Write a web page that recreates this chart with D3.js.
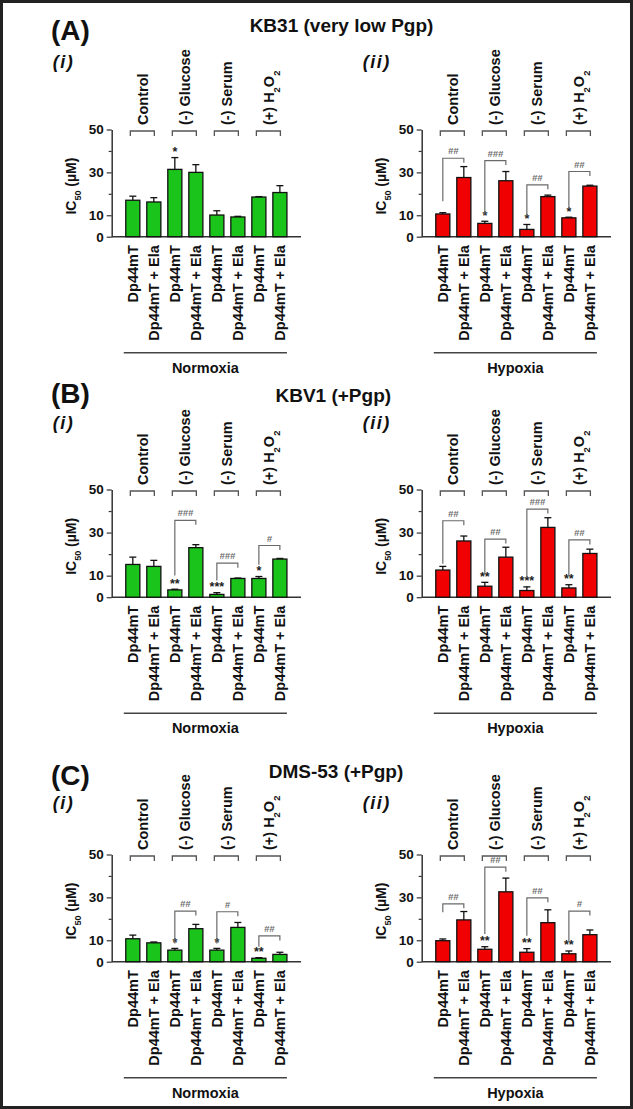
<!DOCTYPE html>
<html><head><meta charset="utf-8">
<script src="https://cdn.jsdelivr.net/npm/d3@7"></script>
<style>
body{margin:0;background:#fff}
svg{display:block}
text{font-family:"Liberation Sans",Arial,sans-serif;font-weight:bold}
</style>
</head><body>
<svg id="chart" width="633" height="1109"></svg>
<script>
// ---------- data ----------
const groups = ["Control", "(-) Glucose", "(-) Serum", "(+) H2O2"];
const treatments = ["Dp44mT", "Dp44mT + Ela"];
const yTickValues = [0, 10, 20, 30, 40, 50];
const yTickLabels = [0, 10, 30, 50];
const conditions = ["Normoxia", "Hypoxia"];
const panelLetters = ["(A)", "(B)", "(C)"];
const cellLines = ["KB31 (very low Pgp)", "KBV1 (+Pgp)", "DMS-53 (+Pgp)"];
const subLabels = ["(i)", "(ii)"];

// (A) KB31
const aNormMean = [17.0, 16.2, 31.4, 30.0, 10.1, 9.2, 18.5, 20.6];
const aNormErr  = [1.9, 2.0, 5.5, 3.6, 2.0, 0.3, 0.2, 3.2];
const aNormStar = ["", "", "*", "", "", "", "", ""];
const aNormHash = [null, null, null, null];
const aNormHashTop = [null, null, null, null];
const aNormHashLeft = [null, null, null, null];

const aHypMean = [10.6, 27.6, 6.2, 26.1, 3.4, 18.7, 8.8, 23.6];
const aHypErr  = [0.6, 5.1, 1.0, 4.3, 2.3, 0.7, 0.3, 0.4];
const aHypStar = ["", "", "*", "", "*", "", "*", ""];
const aHypHash = ["##", "###", "##", "##"];
const aHypHashTop = [36.6, 35.5, 24.2, 30.4];
const aHypHashLeft = [16.5, 10.6, 9.5, 13.0];

// (B) KBV1
const bNormMean = [15.2, 14.3, 3.4, 23.0, 1.3, 8.7, 8.7, 17.7];
const bNormErr  = [3.4, 2.8, 0.3, 1.4, 0.8, 0.2, 0.9, 0.3];
const bNormStar = ["", "", "**", "", "***", "", "*", ""];
const bNormHash = [null, "###", "###", "#"];
const bNormHashTop = [null, 35.7, 15.8, 24.0];
const bNormHashLeft = [null, 10.1, 7.8, 15.1];

const bHypMean = [12.6, 26.1, 5.1, 18.6, 3.1, 32.4, 4.3, 20.3];
const bHypErr  = [1.7, 2.3, 1.8, 4.6, 1.7, 4.5, 1.5, 2.0];
const bHypStar = ["", "", "**", "", "***", "", "**", ""];
const bHypHash = ["##", "##", "###", "##"];
const bHypHashTop = [35.5, 27.0, 40.9, 26.6];
const bHypHashLeft = [15.5, 10.5, 9.2, 10.3];

// (C) DMS-53
const cNormMean = [10.7, 8.8, 5.4, 15.4, 5.4, 16.0, 1.6, 3.4];
const cNormErr  = [1.7, 0.4, 0.8, 2.0, 0.8, 2.3, 0.3, 1.0];
const cNormStar = ["", "", "*", "", "*", "", "**", ""];
const cNormHash = [null, "##", "#", "##"];
const cNormHashTop = [null, 23.6, 23.3, 12.0];
const cNormHashLeft = [null, 8.5, 8.5, 7.0];

const cHypMean = [9.8, 19.5, 5.8, 32.6, 4.4, 18.2, 3.7, 12.6];
const cHypErr  = [0.8, 3.9, 1.2, 6.4, 1.7, 6.0, 1.3, 2.2];
const cHypStar = ["", "", "**", "", "**", "", "**", ""];
const cHypHash = ["##", "##", "##", "#"];
const cHypHashTop = [27.0, 44.1, 29.8, 23.6];
const cHypHashLeft = [23.1, 12.9, 12.1, 9.5];

// ---------- layout ----------
const colors = ["#1ac41a", "#f00000"];
const colX = [[111.7, 301], [421.7, 611]];
const rowY50 = [129.5, 489.5, 854.5];
const rowY0 = [236.7, 597.2, 961.7];
const titleXY = [[341.5, 25], [333.3, 395], [336, 771.5]];
const letterY = [30.5, 393.5, 775.5];
const subY = [61.7, 423.3, 803.3];

const panels = [
  [[aNormMean, aNormErr, aNormStar, aNormHash, aNormHashTop, aNormHashLeft],
   [aHypMean, aHypErr, aHypStar, aHypHash, aHypHashTop, aHypHashLeft]],
  [[bNormMean, bNormErr, bNormStar, bNormHash, bNormHashTop, bNormHashLeft],
   [bHypMean, bHypErr, bHypStar, bHypHash, bHypHashTop, bHypHashLeft]],
  [[cNormMean, cNormErr, cNormStar, cNormHash, cNormHashTop, cNormHashLeft],
   [cHypMean, cHypErr, cHypStar, cHypHash, cHypHashTop, cHypHashLeft]]
];

const svg = d3.select("#chart");
svg.append("rect").attr("x", 1.5).attr("y", 1.5).attr("width", 630).attr("height", 1106)
  .attr("fill", "#fff").attr("stroke", "#222").attr("stroke-width", 3);

const barLabels = d3.range(8).map(i => treatments[i % 2]);

function addLabel(sel, txt, fs) {
  if (txt === "(+) H2O2") {
    sel.append("tspan").text("(+) H");
    sel.append("tspan").text("2").attr("baseline-shift", "sub").attr("font-size", fs * 0.65);
    sel.append("tspan").text("O");
    sel.append("tspan").text("2").attr("baseline-shift", "sub").attr("font-size", fs * 0.65);
  } else sel.text(txt);
}

panels.forEach((row, r) => {
  svg.append("text").attr("x", 51).attr("y", letterY[r]).attr("dominant-baseline", "central")
    .attr("font-size", 28).attr("fill", "#111").text(panelLetters[r]);
  svg.append("text").attr("x", titleXY[r][0]).attr("y", titleXY[r][1]).attr("dominant-baseline", "central")
    .attr("text-anchor", "middle").attr("font-size", 19).attr("fill", "#111").text(cellLines[r]);

  row.forEach((p, c) => {
    const [mean, err, stars, hash, hashTop, hashLeft] = p;
    const [x0, x1] = colX[c];
    const y = d3.scaleLinear().domain([0, 50]).range([rowY0[r], rowY50[r]]);
    const x = d3.scaleBand().domain(d3.range(8)).range([x0, x1]).paddingInner(0.33).paddingOuter(0.67);
    const bw = x.bandwidth();
    const cx = i => x(i) + bw / 2;
    const g = svg.append("g");

    g.append("text").attr("x", x0 - 59).attr("y", subY[r]).attr("dominant-baseline", "central")
      .attr("font-size", 18).attr("font-style", "italic").attr("letter-spacing", 1.5)
      .attr("fill", "#111").text(subLabels[c]);

    const ax = g.append("g").attr("transform", `translate(${x0},0)`)
      .call(d3.axisLeft(y).tickValues(yTickValues).tickSize(5).tickSizeOuter(0)
        .tickFormat(d => yTickLabels.includes(d) ? d : ""));
    ax.select(".domain").attr("stroke", "#333").attr("stroke-width", 1.5);
    ax.selectAll(".tick line").attr("stroke", "#333").attr("stroke-width", 1.2)
      .attr("x2", d => yTickLabels.includes(d) ? -5 : -3);
    ax.selectAll(".tick text").attr("font-size", 13.5).attr("font-family", "Liberation Sans, Arial, sans-serif")
      .attr("font-weight", "bold").attr("fill", "#111").attr("x", -8);

    const yl = g.append("text").attr("transform", `translate(${x0 - 41},${(rowY0[r] + rowY50[r]) / 2 + 3}) rotate(-90)`)
      .attr("text-anchor", "middle").attr("dy", "0.35em").attr("font-size", 14).attr("fill", "#111");
    yl.append("tspan").text("IC");
    yl.append("tspan").text("50").attr("font-size", 9).attr("baseline-shift", "sub");
    yl.append("tspan").text(" (µM)");

    g.append("line").attr("x1", x0).attr("x2", x1).attr("y1", y(0)).attr("y2", y(0))
      .attr("stroke", "#333").attr("stroke-width", 1.5);

    g.selectAll("rect.bar").data(mean).join("rect").attr("class", "bar")
      .attr("x", (d, i) => x(i)).attr("width", bw)
      .attr("y", d => y(d)).attr("height", d => y(0) - y(d))
      .attr("fill", colors[c]).attr("stroke", "#111").attr("stroke-width", 1.3);

    const eb = g.selectAll("g.eb").data(mean.map((m, i) => ({m, e: err[i], i}))).join("g");
    eb.append("line").attr("x1", d => cx(d.i)).attr("x2", d => cx(d.i))
      .attr("y1", d => y(d.m)).attr("y2", d => y(d.m + d.e)).attr("stroke", "#111").attr("stroke-width", 1.3);
    eb.append("line").attr("x1", d => cx(d.i) - 3.5).attr("x2", d => cx(d.i) + 3.5)
      .attr("y1", d => y(d.m + d.e)).attr("y2", d => y(d.m + d.e)).attr("stroke", "#111").attr("stroke-width", 1.3);

    g.selectAll("text.star").data(stars).join("text").attr("class", "star")
      .attr("x", (d, i) => cx(i)).attr("y", (d, i) => y(mean[i] + err[i]) - 1.5)
      .attr("text-anchor", "middle").attr("font-size", 12.5).attr("fill", "#222").text(d => d);

    hash.forEach((h, k) => {
      if (!h) return;
      const xl = cx(2 * k), xr = cx(2 * k + 1), yt = y(hashTop[k]);
      g.append("path").attr("d", `M${xl},${y(hashLeft[k])}V${yt}H${xr}V${yt + 4.5}`)
        .attr("fill", "none").attr("stroke", "#6a6a6a").attr("stroke-width", 1.2);
      g.append("text").attr("x", (xl + xr) / 2).attr("y", yt - 4).attr("text-anchor", "middle")
        .attr("font-size", 9.5).attr("font-weight", "normal").attr("font-style", "italic")
        .attr("fill", "#6e6e6e").text(h);
    });

    groups.forEach((gname, k) => {
      const c1 = cx(2 * k), c2 = cx(2 * k + 1), hy = rowY50[r] + 1.5;
      g.append("path").attr("d", `M${c1 - 2.5},${hy + 5}V${hy}H${c2 + 0.5}V${hy + 5}`)
        .attr("fill", "none").attr("stroke", "#555").attr("stroke-width", 1.3);
      const t = g.append("text").attr("transform", `translate(${(c1 + c2) / 2 - 0.5},${rowY50[r] - 4.5}) rotate(-90)`)
        .attr("dy", "0.35em").attr("font-size", 14.5).attr("fill", "#111");
      addLabel(t, gname, 14.5);
    });

    g.selectAll("text.bl").data(barLabels).join("text").attr("class", "bl")
      .attr("transform", (d, i) => `translate(${cx(i)},${rowY0[r] + 8.5}) rotate(-90)`)
      .attr("dy", "0.35em").attr("text-anchor", "end").attr("font-size", 14.5).attr("fill", "#111").text(d => d);

    const ly = rowY0[r] + 116;
    g.append("line").attr("x1", x(0) - 2).attr("x2", x(7) + bw).attr("y1", ly).attr("y2", ly)
      .attr("stroke", "#444").attr("stroke-width", 1.5);
    g.append("text").attr("x", (x(0) - 2 + x(7) + bw) / 2).attr("y", ly + 15).attr("dominant-baseline", "central")
      .attr("text-anchor", "middle").attr("font-size", 14.5).attr("fill", "#111").text(conditions[c]);
  });
});
</script>
</body></html>
